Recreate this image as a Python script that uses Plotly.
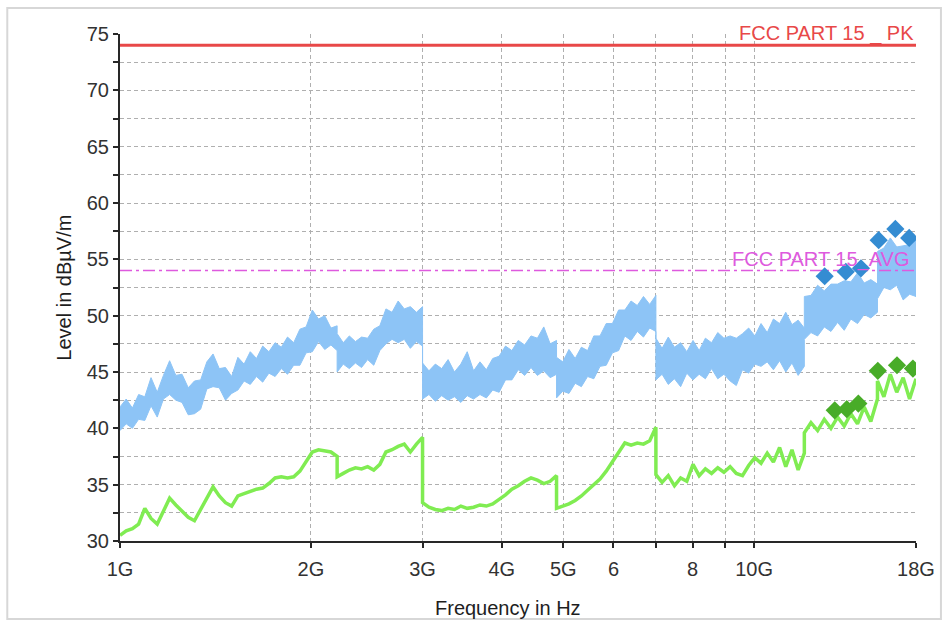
import numpy as np
import plotly.graph_objects as go

# ---------------------------------------------------------------------------
# Sweep definition: the receiver scan is split into sub-bands (GHz); every
# sub-band holds a fixed number of trace points spaced logarithmically.
seg_edges_ghz = [1.0, 2.2, 3.0, 4.88, 7.0, 12.0, 15.65, 18.0]
seg_points = [36, 15, 22, 17, 25, 12, 7]

# Peak detector trace, upper and lower envelope (dBµV/m)
pk_hi = [
    41.9, 42.6, 41.8, 43.0, 42.8, 44.5, 43.2, 44.7, 46.0, 44.7, 44.8, 43.6,
    44.2, 44.3, 45.9, 46.6, 45.3, 45.4, 44.6, 46.3, 45.7, 46.8, 46.2, 47.3,
    46.8, 47.6, 47.2, 48.1, 47.6, 48.8, 49.0, 50.5, 49.7, 50.0, 48.9, 49.1,
    48.4, 47.6, 48.2, 47.7, 48.1, 48.0, 48.8, 49.1, 50.6, 50.3, 51.3, 50.6,
    50.8, 50.3, 50.8,
    45.8, 45.1, 45.7, 45.3, 46.1, 45.0, 45.7, 46.8, 45.1, 45.9, 45.2, 46.2,
    46.4, 47.3, 46.9, 47.8, 47.4, 48.2, 48.0, 49.0, 47.5, 47.8,
    46.3, 45.9, 47.0, 46.2, 47.2, 46.9, 48.2, 48.2, 49.3, 49.3, 50.5, 50.5,
    51.3, 50.9, 51.7, 51.0, 51.8,
    48.0, 47.1, 48.1, 47.2, 47.6, 46.8, 47.8, 46.9, 48.0, 47.6, 48.5, 48.0,
    48.2, 48.0, 48.4, 48.9, 48.2, 49.3, 48.5, 49.7, 49.3, 50.3, 49.2, 49.6,
    48.9,
    51.7, 51.8, 52.7, 52.2, 52.8, 52.8, 53.1, 53.0, 53.8, 52.9, 53.2, 52.8,
    55.7, 56.0, 56.9, 56.1, 56.2, 56.3, 56.9,
]
pk_lo = [
    39.8, 40.4, 40.0, 40.8, 40.7, 42.0, 41.0, 42.6, 43.0, 42.5, 42.3, 41.2,
    41.3, 41.7, 43.5, 43.7, 43.6, 42.5, 43.1, 43.4, 44.2, 43.9, 44.6, 44.1,
    44.9, 44.6, 45.3, 44.8, 45.6, 45.6, 46.7, 46.8, 47.7, 47.0, 47.4, 46.9,
    45.0, 45.7, 45.3, 45.8, 45.4, 46.1, 45.6, 46.9, 47.5, 47.9, 47.6, 47.9,
    47.1, 47.7, 47.3,
    42.6, 43.0, 42.4, 42.9, 42.5, 42.8, 42.3, 42.9, 42.6, 43.0, 42.7, 43.4,
    43.2, 44.3, 44.3, 45.2, 44.7, 45.4, 44.7, 45.1, 44.5, 44.8,
    42.7, 43.3, 43.1, 44.0, 43.7, 44.6, 44.4, 45.5, 45.6, 46.7, 46.9, 48.2,
    47.8, 48.6, 48.1, 48.9, 48.6,
    44.3, 44.8, 43.9, 44.4, 43.7, 44.9, 44.3, 44.8, 44.4, 45.3, 44.4, 44.8,
    44.2, 43.8, 45.2, 44.9, 45.7, 45.5, 45.9, 45.2, 46.0, 45.0, 45.8, 44.7,
    45.5,
    47.9, 48.5, 48.2, 49.0, 48.6, 49.4, 48.7, 49.7, 49.3, 50.1, 49.8, 50.3,
    51.5, 52.5, 52.3, 52.7, 51.4, 51.9, 51.7,
]

# Average detector trace (dBµV/m)
av_trace = [
    30.5, 30.9, 31.1, 31.5, 32.9, 32.0, 31.5, 32.7, 33.8, 33.2, 32.6, 32.1,
    31.8, 32.8, 33.9, 34.8, 34.0, 33.4, 33.1, 34.0, 34.2, 34.4, 34.6, 34.7,
    35.1, 35.6, 35.7, 35.6, 35.7, 36.2, 37.0, 37.9, 38.1, 38.0, 37.9, 37.5,
    35.7, 36.0, 36.3, 36.5, 36.4, 36.6, 36.3, 36.8, 37.9, 38.1, 38.4, 38.6,
    37.9, 38.6, 39.2,
    33.4, 33.0, 32.8, 32.7, 32.9, 32.8, 33.1, 32.9, 33.0, 33.2, 33.1, 33.3,
    33.7, 34.1, 34.6, 34.9, 35.3, 35.6, 35.4, 35.1, 35.3, 35.8,
    32.9, 33.1, 33.3, 33.6, 34.0, 34.5, 35.0, 35.5, 36.2, 37.0, 37.9, 38.7,
    38.5, 38.7, 38.6, 38.9, 40.1,
    35.9, 35.2, 35.8, 34.9, 35.6, 35.3, 36.8, 35.8, 36.4, 36.0, 36.5, 36.1,
    36.6, 36.0, 35.8, 36.7, 37.4, 36.9, 37.8, 37.0, 38.3, 36.6, 38.1, 36.3,
    37.8,
    39.6, 40.5, 39.8, 40.8, 40.0, 41.0, 40.2, 41.3, 40.4, 41.9, 40.6, 42.6,
    44.2, 42.8, 44.8, 43.2, 44.5, 42.6, 44.4,
]

# Final measurement points
pk_marker_ghz = [12.92, 13.95, 14.74, 15.72, 16.70, 17.56]
pk_marker_lvl = [53.5, 53.9, 54.2, 56.7, 57.7, 56.9]
av_marker_ghz = [13.40, 14.00, 14.60, 15.67, 16.80, 17.80]
av_marker_lvl = [41.6, 41.7, 42.2, 45.1, 45.6, 45.3]

# Limit lines
limit_pk = 74.0
limit_avg = 54.0
limit_pk_name = "FCC PART 15 _ PK"
limit_avg_name = "FCC PART 15_AVG"

# Axis ticks
x_tick_ghz = [1, 2, 3, 4, 5, 6, 7, 8, 9, 10, 18]
x_tick_text = ["1G", "2G", "3G", "4G", "5G", "6", "", "8", "", "10G", "18G"]
y_tick_vals = [30 + 2.5 * k for k in range(19)]
y_tick_text = [str(int(v)) if v % 5 == 0 else "" for v in y_tick_vals]

# ---------------------------------------------------------------------------
freq_ghz = []
for f0, f1, n in zip(seg_edges_ghz[:-1], seg_edges_ghz[1:], seg_points):
    freq_ghz.extend(np.geomspace(f0, f1, n).tolist())
assert len(freq_ghz) == len(pk_hi) == len(pk_lo) == len(av_trace)

GHZ = 1e9
freq_hz = [f * GHZ for f in freq_ghz]
x_tick_hz = [f * GHZ for f in x_tick_ghz]
x_range = [np.log10(seg_edges_ghz[0] * GHZ), np.log10(seg_edges_ghz[-1] * GHZ)]
y_range = [30, 75]

W, H = 947, 623
ML, MR, MT, MB = 120, 29, 34, 82
PW, PH = W - ML - MR, H - MT - MB


def px_x(px):
    return (px - ML) / PW


def px_y(py):
    return (H - MB - py) / PH


FONT = "Liberation Sans, Arial, sans-serif"
BLUE_BAND = "rgb(141,196,246)"
GREEN_LINE = "rgb(128,236,82)"
BLUE_MARK = "rgb(52,140,210)"
GREEN_MARK = "rgb(72,172,40)"
RED = "rgb(232,72,72)"
MAGENTA = "rgb(222,90,222)"
GRID = "rgb(175,175,175)"
AXIS = "rgb(40,40,40)"

fig = go.Figure()

# Peak trace drawn as a filled envelope band
fig.add_trace(go.Scatter(
    x=freq_hz + freq_hz[::-1],
    y=pk_hi + pk_lo[::-1],
    mode="lines",
    fill="toself",
    fillcolor=BLUE_BAND,
    line=dict(color=BLUE_BAND, width=1),
    hoverinfo="skip",
    showlegend=False,
))

# Average trace
fig.add_trace(go.Scatter(
    x=freq_hz, y=av_trace, mode="lines",
    line=dict(color=GREEN_LINE, width=3.5),
    showlegend=False,
))

# Limit lines
fig.add_trace(go.Scatter(
    x=[freq_hz[0], freq_hz[-1]], y=[limit_pk, limit_pk], mode="lines",
    line=dict(color=RED, width=3), showlegend=False,
))
fig.add_trace(go.Scatter(
    x=[freq_hz[0], freq_hz[-1]], y=[limit_avg, limit_avg], mode="lines",
    line=dict(color=MAGENTA, width=1.5, dash="12px,4px,3px,4px"),
    showlegend=False,
))

# Final measurement markers
fig.add_trace(go.Scatter(
    x=[f * GHZ for f in pk_marker_ghz], y=pk_marker_lvl, mode="markers",
    marker=dict(symbol="diamond", size=14, color=BLUE_MARK, line=dict(width=0)),
    showlegend=False,
))
fig.add_trace(go.Scatter(
    x=[f * GHZ for f in av_marker_ghz], y=av_marker_lvl, mode="markers",
    marker=dict(symbol="diamond", size=14, color=GREEN_MARK, line=dict(width=0)),
    showlegend=False,
))

tick_font = dict(family=FONT, size=20, color="rgb(50,50,50)")

fig.update_layout(
    width=W, height=H,
    margin=dict(l=ML, r=MR, t=MT, b=MB),
    paper_bgcolor="white", plot_bgcolor="white",
    font=dict(family=FONT),
    xaxis=dict(
        type="log", range=x_range,
        tickvals=x_tick_hz, ticktext=x_tick_text,
        tickfont=tick_font, ticks="outside", ticklen=5, tickwidth=2,
        tickcolor=AXIS, showline=True, linecolor=AXIS, linewidth=2,
        showgrid=True, gridcolor=GRID, gridwidth=1, griddash="4px,3px",
        zeroline=False, ticklabelstandoff=4,
    ),
    yaxis=dict(
        range=y_range, tickvals=y_tick_vals, ticktext=y_tick_text,
        tickfont=tick_font, ticks="outside", ticklen=5, tickwidth=2,
        tickcolor=AXIS, showline=True, linecolor=AXIS, linewidth=2,
        showgrid=True, gridcolor=GRID, gridwidth=1, griddash="4px,3px",
        zeroline=False, ticklabelstandoff=0,
    ),
    # overlaid axes supply the inner half of the crossing tick marks
    xaxis2=dict(
        type="log", range=x_range, overlaying="x", anchor="y",
        tickvals=x_tick_hz, ticks="inside", ticklen=5, tickwidth=2,
        tickcolor=AXIS, showticklabels=False, showgrid=False,
        showline=False, zeroline=False,
    ),
    yaxis2=dict(
        range=y_range, overlaying="y", anchor="x", side="left",
        tickvals=y_tick_vals, ticks="inside", ticklen=5, tickwidth=2,
        tickcolor=AXIS, showticklabels=False, showgrid=False,
        showline=False, zeroline=False,
    ),
    shapes=[
        dict(type="rect", xref="paper", yref="paper",
             x0=px_x(7), x1=px_x(943), y0=px_y(619), y1=px_y(8),
             line=dict(color="rgb(215,215,215)", width=2),
             fillcolor="rgba(0,0,0,0)", layer="below"),
    ],
    annotations=[
        dict(text="Level in dBµV/m", textangle=-90, showarrow=False,
             xref="paper", yref="paper", x=px_x(63), y=0.5,
             xanchor="center", yanchor="middle",
             font=dict(family=FONT, size=20, color="rgb(30,30,30)")),
        dict(text="Frequency in Hz", showarrow=False,
             xref="paper", yref="paper", x=px_x(509), y=px_y(608),
             xanchor="center", yanchor="middle",
             font=dict(family=FONT, size=20, color="rgb(30,30,30)")),
        dict(text=limit_pk_name, showarrow=False,
             xref="paper", yref="y", x=1.0, y=limit_pk,
             xanchor="right", yanchor="bottom", yshift=-2,
             font=dict(family=FONT, size=20, color=RED)),
        dict(text=limit_avg_name, showarrow=False,
             xref="paper", yref="y", x=px_x(913), y=limit_avg,
             xanchor="right", yanchor="bottom", yshift=-2,
             font=dict(family=FONT, size=20, color=MAGENTA)),
    ],
)

fig.write_html("out.html")
